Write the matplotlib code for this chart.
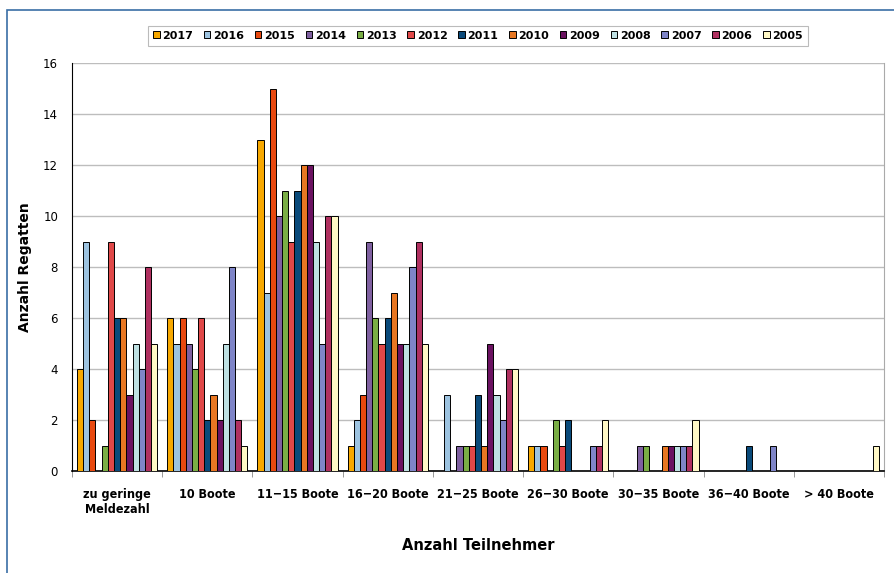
import numpy as np
import matplotlib.pyplot as plt
from matplotlib.patches import Rectangle

categories = ['zu geringe\nMeldezahl', '10 Boote', '11\u221215 Boote', '16\u221220 Boote',
              '21\u221225 Boote', '26\u221230 Boote', '30\u221235 Boote', '36\u221240 Boote',
              '> 40 Boote']
years = ['2017', '2016', '2015', '2014', '2013', '2012', '2011', '2010', '2009',
         '2008', '2007', '2006', '2005']

v2017 = [4, 6, 13, 1, 0, 1, 0, 0, 0]
v2016 = [9, 5, 7, 2, 3, 1, 0, 0, 0]
v2015 = [2, 6, 15, 3, 0, 1, 0, 0, 0]
v2014 = [0, 5, 10, 9, 1, 0, 1, 0, 0]
v2013 = [1, 4, 11, 6, 1, 2, 1, 0, 0]
v2012 = [9, 6, 9, 5, 1, 1, 0, 0, 0]
v2011 = [6, 2, 11, 6, 3, 2, 0, 1, 0]
v2010 = [6, 3, 12, 7, 1, 0, 1, 0, 0]
v2009 = [3, 2, 12, 5, 5, 0, 1, 0, 0]
v2008 = [5, 5, 9, 5, 3, 0, 1, 0, 0]
v2007 = [4, 8, 5, 8, 2, 1, 1, 1, 0]
v2006 = [8, 2, 10, 9, 4, 1, 1, 0, 0]
v2005 = [5, 1, 10, 5, 4, 2, 2, 0, 1]

series = [v2017, v2016, v2015, v2014, v2013, v2012, v2011, v2010, v2009,
          v2008, v2007, v2006, v2005]
colors = ['#F7A800', '#9DC3E0', '#E8490F', '#7F60A0', '#7AAE45', '#E04848', '#0A4A7A',
          '#E87722', '#6B1261', '#BEE0E2', '#7F85C8', '#B03060', '#FFF8C6']

fig = plt.figure(figsize=(8.95, 5.73), dpi=100)
ax = fig.add_axes([0.0804, 0.178, 0.9073, 0.712])

# outer frame (cut off on the right and bottom like the original)
fig.patches.append(Rectangle((7 / 895, -0.1), 1.0, 1 - 10 / 573 + 0.1, transform=fig.transFigure,
                             fill=False, edgecolor='#3A6EA5', linewidth=1.2))

n = len(series)
x = np.arange(len(categories))
w = 0.89 / n
for i, vals in enumerate(series):
    ax.bar(x - 0.445 + w * (i + 0.5), vals, width=w, color=colors[i],
           edgecolor='black', linewidth=0.7, label=years[i], zorder=3)

ax.set_xlim(-0.5, len(categories) - 0.5)
ax.set_ylim(0, 16)
ax.set_yticks(range(0, 17, 2))
ax.yaxis.grid(True, color='#BDBDBD', linewidth=1.0, zorder=0)
ax.tick_params(axis='y', length=0, labelsize=8.5, pad=10)

ax.set_xticks(x)
ax.set_xticklabels(categories, fontsize=9, fontweight='bold', fontstretch='condensed',
                   family='DejaVu Sans')
ax.set_xticks(np.arange(-0.5, len(categories), 1), minor=True)
ax.tick_params(axis='x', which='major', length=0, pad=12)
ax.tick_params(axis='x', which='minor', length=4, color='#888888')

ax.spines['top'].set_visible(False)
ax.spines['right'].set_color('#AAAAAA')
ax.spines['left'].set_color('black')
ax.spines['bottom'].set_color('black')
ax.spines['bottom'].set_linewidth(1.2)

ax.set_ylabel('Anzahl Regatten', fontsize=10, fontweight='bold', labelpad=8)
ax.set_xlabel('Anzahl Teilnehmer', fontsize=10.5, fontweight='bold', labelpad=16)

leg = ax.legend(ncol=13, loc='center', bbox_to_anchor=(0.5, 1.067),
                prop={'weight': 'bold', 'size': 8}, handlelength=0.6, handleheight=0.6,
                handletextpad=0.25, columnspacing=0.95, borderpad=0.45, frameon=True,
                fancybox=False, edgecolor='#AAAAAA')
leg.get_frame().set_linewidth(0.8)

plt.savefig('out.png', dpi=100)
